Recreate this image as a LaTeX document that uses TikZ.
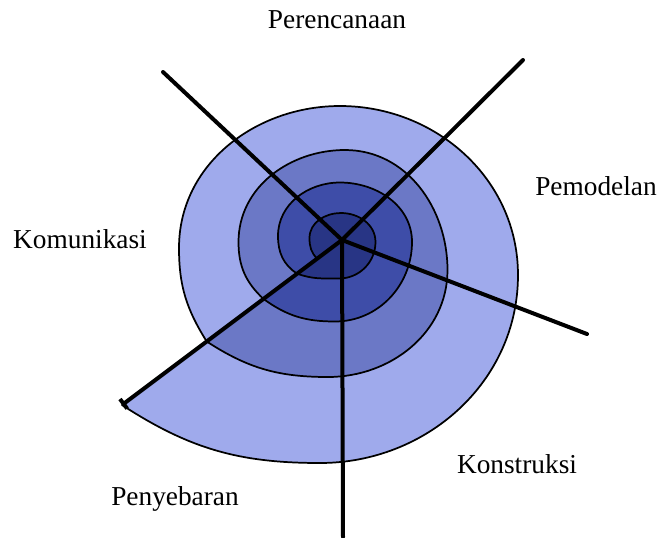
\documentclass[tikz,border=0pt]{standalone}
\usepackage{fontspec}
\setmainfont{Liberation Serif}
\usetikzlibrary{arrows.meta,calc}
\definecolor{ringouter}{HTML}{9FAAEC}
\definecolor{ringthird}{HTML}{6B78C6}
\definecolor{ringsecond}{HTML}{3E4DA8}
\definecolor{ringinner}{HTML}{283585}
\tikzset{
  turn/.style={draw=black, line width=1.3pt, line join=round},
  spoke/.style={line width=3pt, line cap=round},
  lab/.style={font=\fontsize{20.5}{24}\selectfont, anchor=base, inner sep=0pt},
}
\begin{document}
\begin{tikzpicture}[x=0.75pt,y=-0.75pt]
  \useasboundingbox (0,0) rectangle (658,537);
  \coordinate (c) at (342,240);
  \coordinate (plan) at (163,72);
  \coordinate (model) at (523,60);
  \coordinate (build) at (587,334);
  \coordinate (deploy) at (343,537);
  \coordinate (comm) at (122,405);

  % where the spiral crosses the lower left spoke
  \coordinate (p0) at ($(c)!0.113!(comm)$);
  \coordinate (p1) at ($(c)!0.204!(comm)$);
  \coordinate (p2) at ($(c)!0.357!(comm)$);
  \coordinate (p3) at ($(c)!0.615!(comm)$);
  % left, top, right and bottom of each turn
  \coordinate (l1) at (309.5,238); \coordinate (t1) at (341,213);
  \coordinate (r1) at (375.5,242); \coordinate (b1) at (339,278.5);
  \coordinate (l2) at (278,236);   \coordinate (t2) at (340,182.5);
  \coordinate (r2) at (412,242);   \coordinate (b2) at (335,321.5);
  \coordinate (l3) at (238.5,242); \coordinate (t3) at (345,150);
  \coordinate (r3) at (447.5,270); \coordinate (b3) at (328,377);
  \coordinate (l4) at (179,248);   \coordinate (t4) at (340,106);
  \coordinate (r4) at (518,275);   \coordinate (b4) at (320,463);

  % spiral, one turn at a time, outermost first
  \draw[turn, fill=ringouter] (p3) to[out=122,in=270] (l4) to[out=90,in=180] (t4)
    to[out=0,in=90] (r4) to[out=270,in=0] (b4) to[out=180,in=327] (comm) -- cycle;
  \draw[turn, fill=ringthird] (p2) to[out=137,in=270] (l3) to[out=90,in=180] (t3)
    to[out=0,in=90] (r3) to[out=270,in=0] (b3) to[out=180,in=327] (p3) -- cycle;
  \draw[turn, fill=ringsecond] (p1) to[out=147,in=270] (l2) to[out=90,in=180] (t2)
    to[out=0,in=90] (r2) to[out=270,in=0] (b2) to[out=180,in=324] (p2) -- cycle;
  \draw[turn, fill=ringinner] (p0) to[out=135,in=270] (l1) to[out=90,in=180] (t1)
    to[out=0,in=90] (r1) to[out=270,in=0] (b1) to[out=180,in=340] (p1) -- cycle;

  % spokes
  \draw[spoke] (c) -- (plan);
  \draw[spoke] (c) -- (model);
  \draw[spoke] (c) -- (build);
  \draw[spoke] (c) -- (deploy);
  \draw[spoke, -{Bar[width=9pt,line width=3pt]}] (c) -- (comm);

  \node[lab] (perencanaan) at (337,28) {Perencanaan};
  \node[lab] (pemodelan) at (596,195) {Pemodelan};
  \node[lab] (komunikasi) at (80,248) {Komunikasi};
  \node[lab] (konstruksi) at (517,473) {Konstruksi};
  \node[lab] (penyebaran) at (175,505) {Penyebaran};
\end{tikzpicture}
\end{document}
